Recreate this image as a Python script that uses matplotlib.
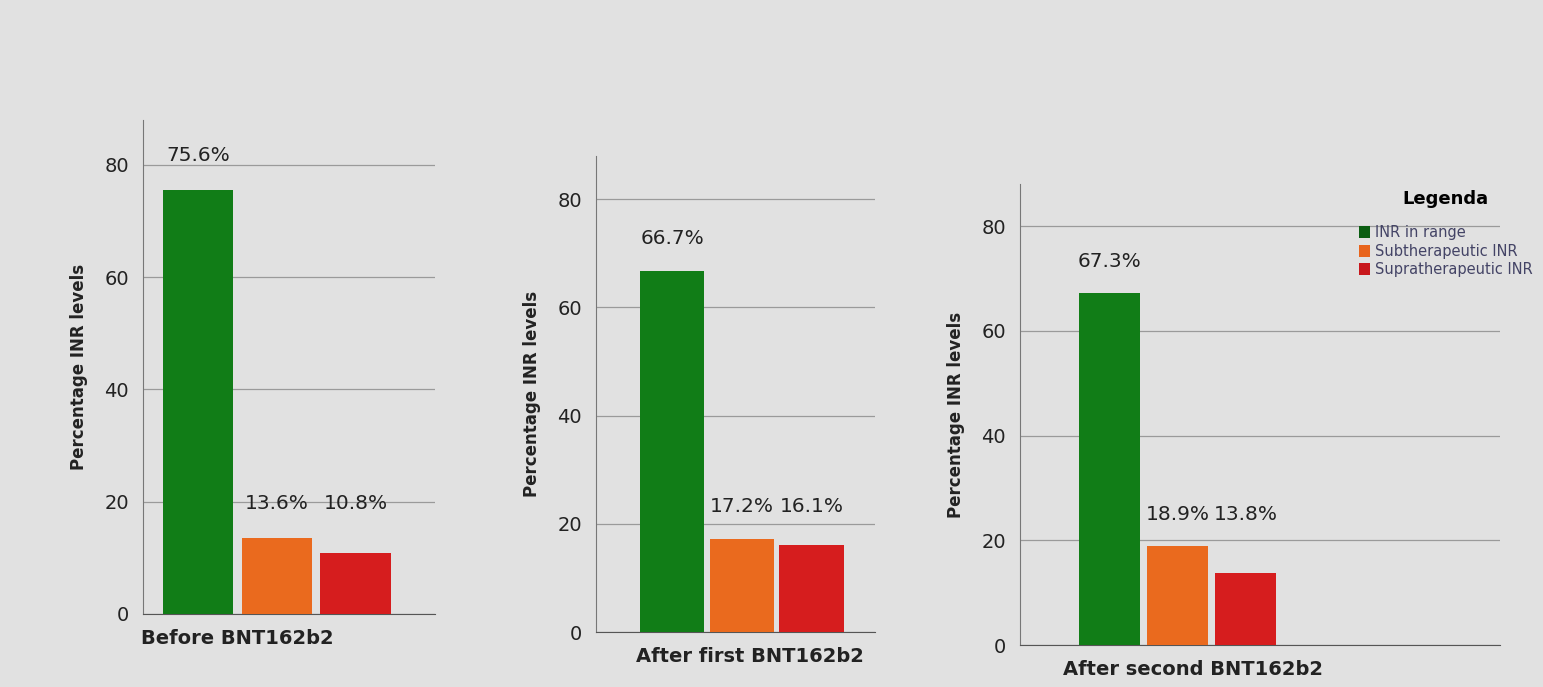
import matplotlib.pyplot as plt
from matplotlib.patches import Patch

# data
categories = ['INR in range', 'Subtherapeutic INR', 'Supratherapeutic INR']
periods = ['Before BNT162b2', 'After first BNT162b2', 'After second BNT162b2']
before = [75.6, 13.6, 10.8]
after_first = [66.7, 17.2, 16.1]
after_second = [67.3, 18.9, 13.8]
yticks = [0, 20, 40, 60, 80]

colors = ['#117d17', '#ea6a1e', '#d61d1e']
legend_colors = ['#0b5e12', '#e8641c', '#c8171c']
bg = '#e1e1e1'

fig = plt.figure(figsize=(15.43, 6.87), dpi=100)
fig.patch.set_facecolor(bg)

# each panel: [left, bottom, width, height], xlim, bar width, label x
panels = [
    (before, periods[0], [0.0927, 0.1063, 0.1892, 0.719], (-0.70, 3.01), 0.89, 0.50),
    (after_first, periods[1], [0.3863, 0.080, 0.1808, 0.693], (-1.09, 2.91), 0.92, 1.11),
    (after_second, periods[2], [0.661, 0.061, 0.311, 0.671], (-1.32, 5.74), 0.90, 1.22),
]

for vals, name, rect, xl, w, lx in panels:
    ax = fig.add_axes(rect)
    ax.set_facecolor('none')
    x = list(range(len(vals)))
    ax.bar(x, vals, width=w, color=colors, zorder=3)
    # the two small bars share one label row
    low = max(vals[1:]) + 6
    for xi, v in zip(x, vals):
        ty = v + 6 if xi == 0 else low
        ax.text(xi, ty, f'{v}%', ha='center', va='center', fontsize=14.5,
                color='#222222', fontweight='medium', zorder=4)
    ax.set_xlim(*xl)
    ax.set_ylim(0, 88)
    ax.set_yticks(yticks)
    ax.set_yticklabels([str(t) for t in yticks], fontsize=14, color='#222222',
                       fontweight='medium')
    ax.set_xticks([])
    ax.tick_params(axis='y', length=0, pad=10)
    ax.yaxis.grid(True, color='#9a9a9a', linewidth=0.9)
    ax.set_axisbelow(True)
    for s in ['top', 'right']:
        ax.spines[s].set_visible(False)
    ax.spines['left'].set_color('#777777')
    ax.spines['bottom'].set_color('#555555')
    ax.set_ylabel('Percentage INR levels', fontsize=12, fontweight='bold',
                  color='#222222', labelpad=12)
    ax.annotate(name, xy=(lx, 0), xycoords=('data', 'axes fraction'),
                xytext=(0, -11), textcoords='offset points', ha='center', va='top',
                fontsize=14, color='#222222', fontweight='semibold')

handles = [Patch(facecolor=c, label=l) for c, l in zip(legend_colors, categories)]
leg = fig.legend(handles=handles, loc='upper left', bbox_to_anchor=(0.872, 0.742),
                 frameon=False, fontsize=10.5, title='Legenda', handlelength=0.8,
                 handleheight=0.9, handletextpad=0.3, labelspacing=0.25,
                 alignment='center',
                 title_fontproperties={'weight': 'bold', 'size': 13})
leg._legend_box.sep = 12
for t in leg.get_texts():
    t.set_color('#444466')

fig.savefig('out.png', dpi=100, facecolor=bg)
